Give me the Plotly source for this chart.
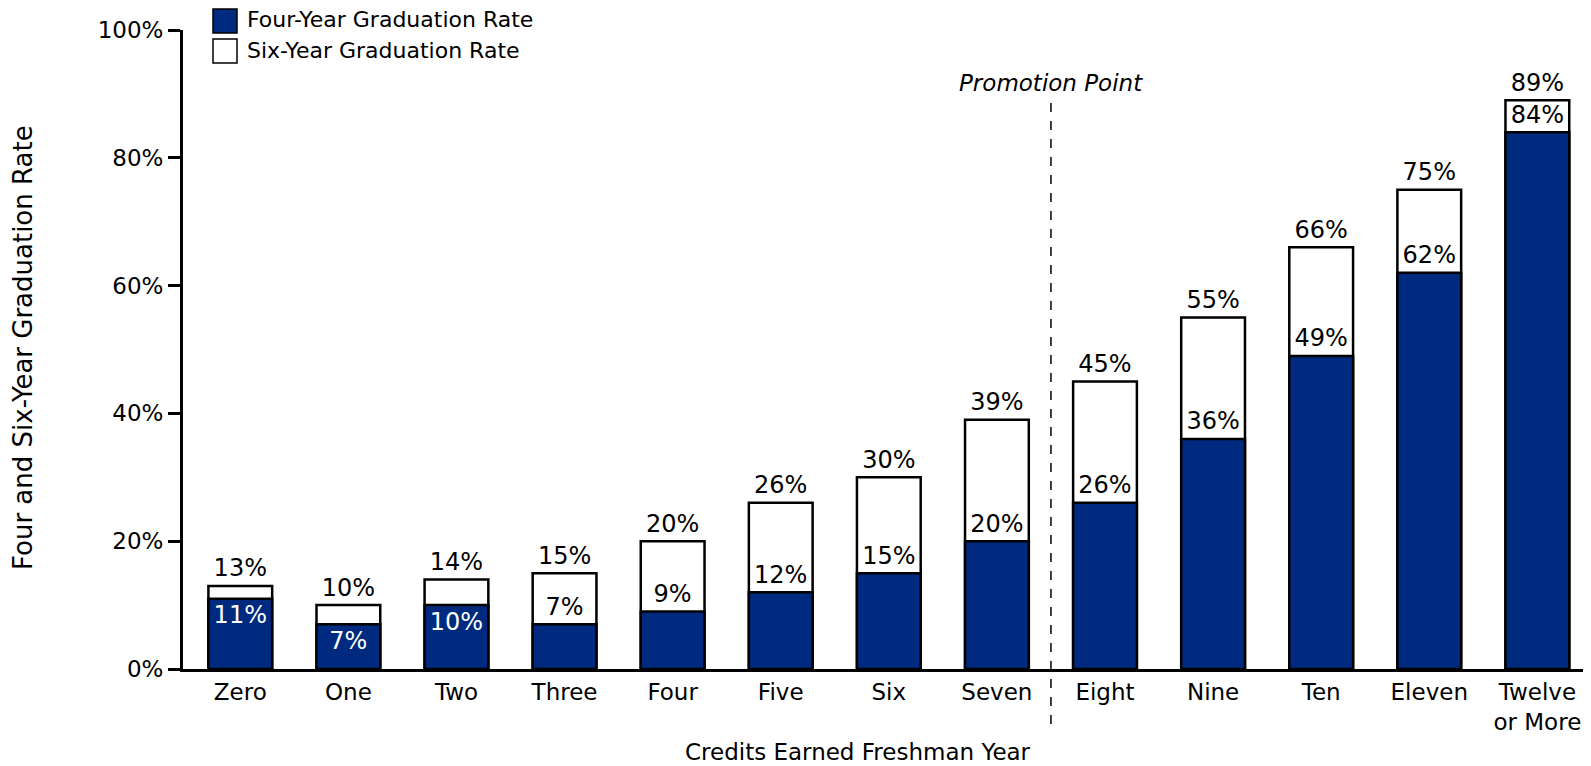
import plotly.graph_objects as go

categories = ["Zero", "One", "Two", "Three", "Four", "Five", "Six", "Seven",
              "Eight", "Nine", "Ten", "Eleven", "Twelve<br>or More"]
four_year = [11, 7, 10, 7, 9, 12, 15, 20, 26, 36, 49, 62, 84]
six_year = [13, 10, 14, 15, 20, 26, 30, 39, 45, 55, 66, 75, 89]
y_ticks = [0, 20, 40, 60, 80, 100]
y_tick_text = [f"{v}%" for v in y_ticks]
series_names = ["Four-Year Graduation Rate", "Six-Year Graduation Rate"]
# four-year labels drawn inside the navy bar (white) for the first three bars
four_label_inside = [True, True, True] + [False] * 10

NAVY = "#002a7f"
FONT = "DejaVu Sans"
FS = 23
LFS = 24
OFF = 8  # browser body margin
W, H = 1591 - OFF, 766 - OFF
L, T = 183 - OFF, 30 - OFF
R = W - (1586 - OFF)
B = H - (669 - OFF)
PW, PH = W - L - R, H - T - B

fig = go.Figure()
fig.add_trace(go.Bar(
    x=categories, y=six_year, name=series_names[1],
    marker=dict(color="white", line=dict(color="black", width=2.5)),
    width=0.59, showlegend=False, hoverinfo="y",
))
fig.add_trace(go.Bar(
    x=categories, y=four_year, name=series_names[0],
    marker=dict(color=NAVY, line=dict(color="black", width=2.5)),
    width=0.59, showlegend=False, hoverinfo="y",
))

# value labels (invisible markers give the label a small gap from the bar edge)
ghost_out = dict(size=4, opacity=0)
ghost_in = dict(size=9, opacity=0)
fig.add_trace(go.Scatter(
    x=categories, y=six_year, mode="markers+text", text=[f"{v}%" for v in six_year],
    marker=ghost_out, textposition="top center",
    textfont=dict(family=FONT, size=LFS, color="black"),
    cliponaxis=False, showlegend=False, hoverinfo="skip",
))
out_x = [c for c, m in zip(categories, four_label_inside) if not m]
out_y = [v for v, m in zip(four_year, four_label_inside) if not m]
in_x = [c for c, m in zip(categories, four_label_inside) if m]
in_y = [v for v, m in zip(four_year, four_label_inside) if m]
fig.add_trace(go.Scatter(
    x=out_x, y=out_y, mode="markers+text", text=[f"{v}%" for v in out_y],
    marker=ghost_out, textposition="top center",
    textfont=dict(family=FONT, size=LFS, color="black"),
    cliponaxis=False, showlegend=False, hoverinfo="skip",
))
fig.add_trace(go.Scatter(
    x=in_x, y=in_y, mode="markers+text", text=[f"{v}%" for v in in_y],
    marker=ghost_in, textposition="bottom center",
    textfont=dict(family=FONT, size=LFS, color="white"),
    cliponaxis=False, showlegend=False, hoverinfo="skip",
))


def px_x(p):
    return (p - OFF - L) / PW


def px_y(p):
    return (H - B - (p - OFF)) / PH


# legend (manual, larger swatches as in the reference)
legend_fills = [NAVY, "white"]
for i, (nm, fc) in enumerate(zip(series_names, legend_fills)):
    yc = 21 + i * 30
    fig.add_shape(type="rect", xref="paper", yref="paper",
                  x0=px_x(213), x1=px_x(237), y0=px_y(yc + 12), y1=px_y(yc - 12),
                  fillcolor=fc, line=dict(color="black", width=1.5), layer="above")
    fig.add_annotation(x=px_x(246), y=px_y(yc - 1), xref="paper", yref="paper",
                       text=nm, showarrow=False, xanchor="left", yanchor="middle",
                       borderpad=0,
                       font=dict(family=FONT, size=22, color="black"))

fig.add_shape(type="line", xref="x", yref="paper", x0=7.5, x1=7.5,
              y0=px_y(724), y1=px_y(101), line=dict(color="black", width=1.5, dash="dash"))
fig.add_annotation(x=7.5, xref="x", y=px_y(83), yref="paper", text="<i>Promotion Point</i>",
                   showarrow=False, font=dict(family=FONT, size=FS, color="black"),
                   xanchor="center", yanchor="middle")
fig.add_annotation(x=px_x(23), xref="paper", y=px_y(348), yref="paper",
                   text="Four and Six-Year Graduation Rate", textangle=-90,
                   xanchor="center", yanchor="middle",
                   showarrow=False, font=dict(family=FONT, size=26, color="black"))
fig.add_annotation(x=px_x(858), xref="paper", y=px_y(752), yref="paper",
                   text="Credits Earned Freshman Year", xanchor="center", yanchor="middle",
                   showarrow=False, font=dict(family=FONT, size=FS, color="black"))

fig.update_layout(
    barmode="overlay",
    width=W, height=H,
    margin=dict(l=L, r=R, t=T, b=B),
    plot_bgcolor="white", paper_bgcolor="white",
    font=dict(family=FONT, size=FS, color="black"),
    showlegend=False,
    xaxis=dict(range=[-0.53, 12.45], showline=True, linecolor="black", linewidth=3,
               ticks="", showgrid=False, automargin=False,
               tickfont=dict(family=FONT, size=FS)),
    yaxis=dict(range=[0, 100], tickvals=y_ticks, ticktext=y_tick_text, showline=True,
               linecolor="black", linewidth=3, ticks="outside", ticklen=12,
               tickwidth=3, tickcolor="black", showgrid=False, zeroline=False,
               automargin=False, tickfont=dict(family=FONT, size=FS)),
)

fig.write_html("out.html")
